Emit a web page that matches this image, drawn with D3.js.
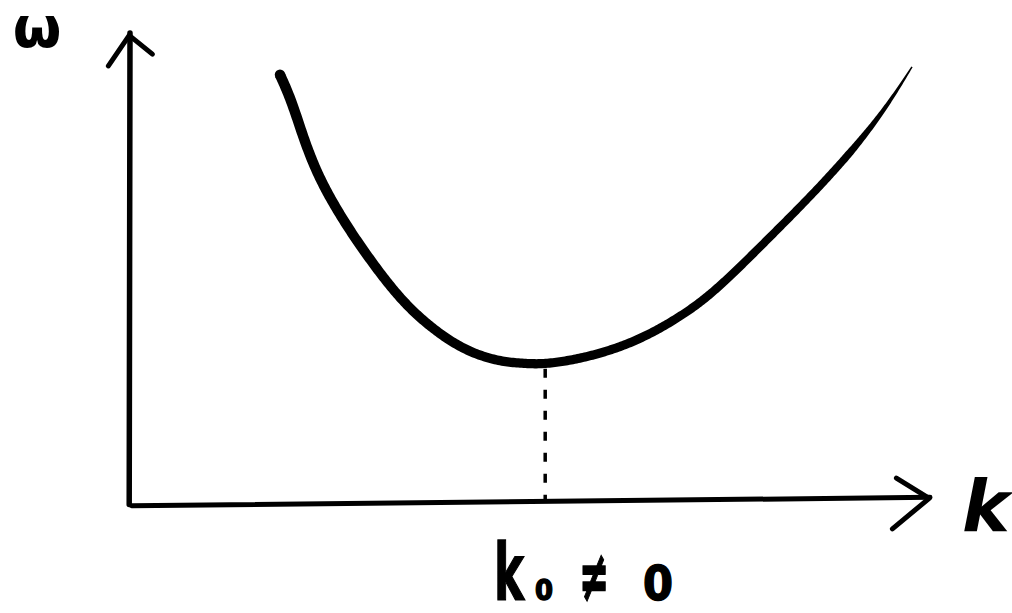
<!DOCTYPE html>
<html>
<head>
<meta charset="utf-8">
<script src="https://cdn.jsdelivr.net/npm/d3@7"></script>
<style>
  html, body { margin: 0; padding: 0; background: #fff; }
  svg { display: block; }
  text { font-family: "DejaVu Sans", sans-serif; fill: #000; }
</style>
</head>
<body>
<svg id="chart" width="1012" height="613"></svg>
<script>
// Dispersion relation ω(k) with its minimum at k0 ≠ 0
const kValues     = [18.75, 20, 21.25, 22.1, 23.75, 26.6, 30, 34.1, 38.4, 42.5, 46.6, 48.75, 51.6, 57.1, 63.4, 69.6, 73.75, 80, 85, 90.4, 94.6, 97.75];
const omegaValues = [91.1, 86.4, 80, 75.7, 68.7, 60.2, 51.7, 42.6, 36.2, 31.9, 30.0, 29.8, 29.4, 30.9, 34.3, 40.4, 46.0, 56.6, 65.1, 75.1, 84.3, 92.8];
const kMin = 51.9;          // position of the minimum
const omegaAtMin = 29.4;

const axisLabels = { omega: "ω", k: "k" };
const minLabel = ["k", "0", "≠", "0"];

const svg = d3.select("#chart");

const x = d3.scaleLinear().domain([0, 100]).range([130, 930]);
const y = d3.scaleLinear().domain([0, 100]).range([503, 33]);

// ---- axes (hand-sketched look: slight tilt on the k axis) ----
const axisStyle = g => g.attr("fill", "none").attr("stroke", "#000")
  .attr("stroke-linecap", "round").attr("stroke-linejoin", "round");

// ω axis
svg.append("path").call(axisStyle).attr("stroke-width", 5.5)
  .attr("d", d3.line()([[x(-0.1), y(-0.3)], [x(0), y(100)]]));
svg.append("path").call(axisStyle).attr("stroke-width", 5)
  .attr("d", d3.line()([[x(-2.7), y(93)], [x(-0.1), y(99.5)], [x(2.8), y(95.5)]]));

// k axis
svg.append("path").call(axisStyle).attr("stroke-width", 5)
  .attr("d", d3.line()([[x(0.2), y(-0.6)], [x(100), y(1.2)]]));
svg.append("path").call(axisStyle).attr("stroke-width", 5)
  .attr("d", d3.line()([[x(95.8), y(5.3)], [x(99.9), y(1.0)], [x(95.3), y(-5.5)]]));

// ---- dashed guide from the minimum down to the k axis ----
svg.append("path")
  .attr("fill", "none").attr("stroke", "#000")
  .attr("stroke-width", 3.5).attr("stroke-dasharray", "9,12")
  .attr("d", d3.line()([[x(kMin), y(omegaAtMin) + 4], [x(kMin), y(0.6)]]));

// ---- the ω(k) curve, drawn as a brush stroke that tapers at its right end ----
const pts = kValues.map((k, i) => [x(k), y(omegaValues[i])]);
const guide = svg.append("path")
  .attr("fill", "none").attr("stroke", "none")
  .attr("d", d3.line().curve(d3.curveBasis)(pts));

const node = guide.node();
const L = node.getTotalLength();
const N = 500;
const samples = d3.range(N + 1).map(i => node.getPointAtLength(L * i / N));
const width = t => {
  if (t < 0.55) return 10.5 - 1.5 * (t / 0.55);
  if (t < 0.88) return 9 - 1.5 * ((t - 0.55) / 0.33);
  return 7.5 - 6 * ((t - 0.88) / 0.12);
};
const left = [], right = [];
samples.forEach((p, i) => {
  const a = samples[Math.max(0, i - 1)], b = samples[Math.min(N, i + 1)];
  const dx = b.x - a.x, dy = b.y - a.y;
  const len = Math.hypot(dx, dy) || 1;
  const nx = -dy / len, ny = dx / len;
  const w = width(i / N) / 2;
  left.push([p.x + nx * w, p.y + ny * w]);
  right.push([p.x - nx * w, p.y - ny * w]);
});
svg.append("path")
  .attr("fill", "#000")
  .attr("d", d3.line()(left.concat(right.reverse())) + "Z");
svg.append("circle")
  .attr("cx", samples[0].x).attr("cy", samples[0].y)
  .attr("r", width(0) / 2).attr("fill", "#000");

// ---- labels ----
svg.append("text")
  .attr("x", 37).attr("y", 47)
  .attr("text-anchor", "middle")
  .attr("font-size", 56).attr("font-weight", "bold")
  .text(axisLabels.omega);

svg.append("text")
  .attr("x", 986).attr("y", 531)
  .attr("text-anchor", "middle")
  .attr("font-size", 72).attr("font-weight", "bold")
  .attr("font-style", "italic")
  .text(axisLabels.k);

// "k0 ≠ 0" under the minimum, each glyph narrowed like hand lettering
const labelPieces = [
  { t: minLabel[0], x: 494, y: 600, size: 78, len: 30 },
  { t: minLabel[1], x: 535, y: 600, size: 28, len: 18 },
  { t: minLabel[2], x: 579, y: 601, size: 72, len: 30 },
  { t: minLabel[3], x: 643, y: 600, size: 48, len: 30 }
];
svg.append("text")
  .attr("font-weight", "bold")
  .attr("stroke", "#000").attr("stroke-width", 1.5)
  .selectAll("tspan").data(labelPieces).join("tspan")
  .attr("x", d => d.x).attr("y", d => d.y)
  .attr("font-size", d => d.size)
  .attr("textLength", d => d.len).attr("lengthAdjust", "spacingAndGlyphs")
  .text(d => d.t);
</script>
</body>
</html>
